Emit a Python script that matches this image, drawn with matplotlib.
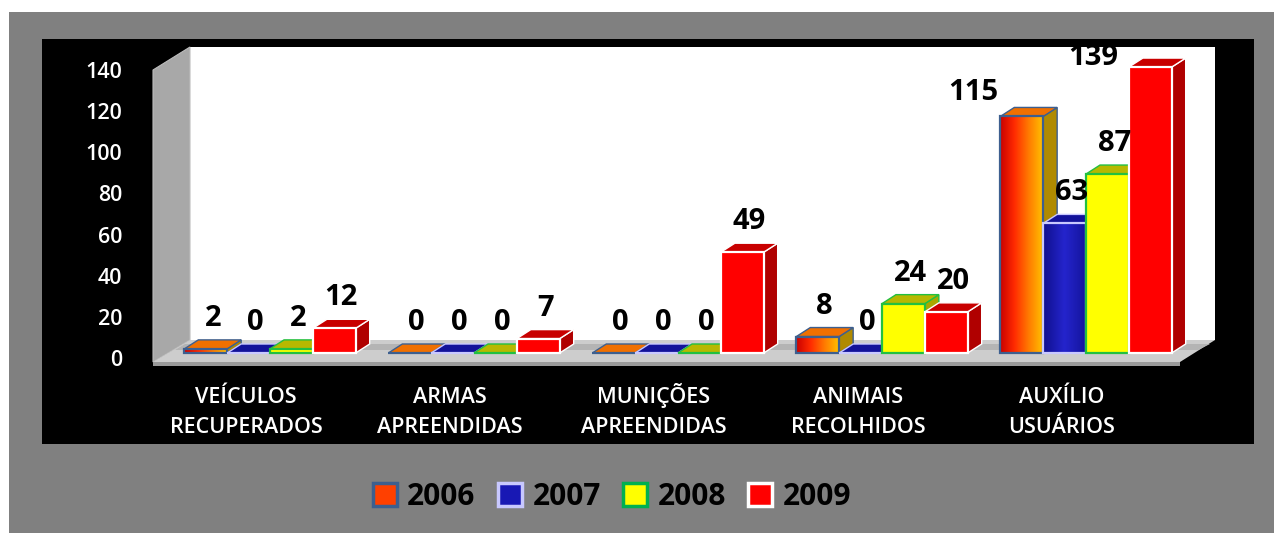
#Imports
import numpy as np
import matplotlib
matplotlib.use('Agg')
import matplotlib.pyplot as plt
import matplotlib.transforms as mtransforms
from matplotlib.patches import Rectangle, Polygon, Patch
from matplotlib.colors import LinearSegmentedColormap

plt.rcParams['font.family'] = ['Open Sans', 'DejaVu Sans']

#Data
categories = ['VEÍCULOS\nRECUPERADOS', 'ARMAS\nAPREENDIDAS', 'MUNIÇÕES\nAPREENDIDAS',
              'ANIMAIS\nRECOLHIDOS', 'AUXÍLIO\nUSUÁRIOS']
years = ['2006', '2007', '2008', '2009']
v2006 = [2, 0, 0, 8, 115]
v2007 = [0, 0, 0, 0, 63]
v2008 = [2, 0, 0, 24, 87]
v2009 = [12, 7, 49, 20, 139]
yticks = [0, 20, 40, 60, 80, 100, 120, 140]

#Styles per series: front, side, top, edge
front_col = ['#ff4000', '#1818b4', '#ffff00', '#ff0000']
side_col = ['#b08a00', '#0c0c78', '#a8a800', '#b00000']
top_col = ['#f07000', '#12129a', '#b8b800', '#c80000']
edge_col = ['#3d5f8f', '#c8c8ff', '#22c040', '#ffffff']

#Pixel geometry of the pseudo-3D frame
PX_X = 204.0   # pixels per category
PX_Y = 2.057   # pixels per value unit
OX, OY = 270, 353   # pixel of first group centre / value 0

def P(px, py):
  return ((px-OX)/PX_X, (OY-py)/PX_Y)

W = 0.21                # bar width (category units)
DX = 14/PX_X            # depth offset x
DY = 9/PX_Y             # depth offset y

fig = plt.figure(figsize=(12.74, 5.33), dpi=100)
fig.patch.set_facecolor('white')
#gray outer box and black panel
fig.add_artist(Rectangle((9/1274, 0), 1-9/1274, 1-12/533, transform=fig.transFigure,
                         facecolor='#808080', edgecolor='none', zorder=0))
fig.add_artist(Rectangle((42/1274, 1-444/533), (1254-42)/1274, (444-39)/533,
                         transform=fig.transFigure, facecolor='black', edgecolor='none', zorder=0))

L, R, T, B = 150, 1230, 40, 372
ax = fig.add_axes([L/1274, 1-B/533, (R-L)/1274, (B-T)/533])
ax.set_facecolor('none')
for s in ax.spines.values():
  s.set_visible(False)

#walls and floor
ax.add_patch(Polygon([P(190, 340), P(1215, 340), P(1215, 47), P(190, 47)],
                     facecolor='white', edgecolor='none', zorder=1))
ax.add_patch(Polygon([P(153, 362), P(190, 340), P(190, 47), P(153, 70)],
                     facecolor='#a8a8a8', edgecolor='#bdbdbd', lw=0.8, zorder=1))
ax.add_patch(Polygon([P(153, 362), P(190, 340), P(1215, 340), P(1180, 362)],
                     facecolor='#cdcdcd', edgecolor='none', zorder=2))
ax.add_patch(Polygon([P(175, 350), P(185, 344), P(1210, 344), P(1198, 350)],
                     facecolor='#b4b4b4', edgecolor='none', zorder=2))
ax.add_patch(Polygon([P(153, 362), P(1180, 362), P(1180, 366), P(153, 366)],
                     facecolor='#9a9a9a', edgecolor='none', zorder=2))

grad2006 = LinearSegmentedColormap.from_list('g06', ['#c80000', '#ff2a00', '#ff7a00', '#ffc000'])
grad2007 = LinearSegmentedColormap.from_list('g07', ['#10108c', '#2424cc', '#14149c'])

#label shifts (pixels) for the crowded labels
label_shift = {(4, 0): (-55, -7), (4, 3): (-64, -21)}

series = [v2006, v2007, v2008, v2009]
z = 3
for g in range(len(categories)):
  for s in range(len(years)):
    h = series[s][g]
    x = g - 2*W + s*W
    ax.add_patch(Polygon([(x+W, 0), (x+W+DX, DY), (x+W+DX, h+DY), (x+W, h)],
                         facecolor=side_col[s], edgecolor=edge_col[s], lw=1.0, zorder=z))
    ax.add_patch(Polygon([(x, h), (x+DX, h+DY), (x+W+DX, h+DY), (x+W, h)],
                         facecolor=top_col[s], edgecolor=edge_col[s], lw=1.0, zorder=z+0.1))
    rect = Rectangle((x, 0), W, h, facecolor=front_col[s], edgecolor='none', zorder=z+0.2)
    ax.add_patch(rect)
    if h > 0 and s in (0, 1):
      cm = grad2006 if s == 0 else grad2007
      im = ax.imshow(np.linspace(0, 1, 256).reshape(1, -1), extent=[x, x+W, 0, h],
                     cmap=cm, aspect='auto', zorder=z+0.3, interpolation='bilinear')
      im.set_clip_path(rect)
    ax.add_patch(Rectangle((x, 0), W, h, facecolor='none', edgecolor=edge_col[s],
                           lw=1.6, zorder=z+0.4))
    ddx, ddy = label_shift.get((g, s), (0, 0))
    ax.annotate(str(h), (x+W/2, h), xytext=(7+ddx, 16+ddy), textcoords='offset pixels',
                ha='center', va='bottom', fontsize=21, fontweight='bold',
                color='black', zorder=100)
    z += 1

ax.set_xlim((L-OX)/PX_X, (R-OX)/PX_X)
ax.set_ylim((OY-B)/PX_Y, (OY-T)/PX_Y)

#y axis labels
ax.set_yticks(yticks)
ax.set_yticklabels([str(t) for t in yticks])
ax.tick_params(axis='y', length=0, pad=20, labelcolor='white', labelsize=15.5)
for lab in ax.get_yticklabels():
  lab.set_fontweight('semibold')
  lab.set_transform(lab.get_transform() + mtransforms.ScaledTranslation(0, -5/100, fig.dpi_scale_trans))

#category labels, two lines each on fixed baselines
ax.set_xticks(range(len(categories)))
ax.set_xticklabels([])
ax.tick_params(axis='x', length=0)
shift = mtransforms.ScaledTranslation(-24/100, 0, fig.dpi_scale_trans)
for i, cat in enumerate(categories):
  for j, line in enumerate(cat.split('\n')):
    base = 403 + 30*j
    ax.text(i, (B-base)/(B-T), line, transform=ax.get_xaxis_transform() + shift,
            ha='center', va='baseline', color='white', fontsize=15.5, fontweight='semibold')

#legend
handles = [Patch(facecolor=front_col[i], edgecolor=edge_col[i] if i != 2 else '#00b050',
                 linewidth=2.5, label=years[i]) for i in range(len(years))]
fig.legend(handles=handles, loc='center', bbox_to_anchor=(612/1274, 1-497/533), ncol=4,
           frameon=False, prop={'size': 21.5, 'weight': 'bold'}, handlelength=0.8,
           handleheight=0.8, handletextpad=0.35, columnspacing=0.75)

plt.savefig('out.png', dpi=100)
